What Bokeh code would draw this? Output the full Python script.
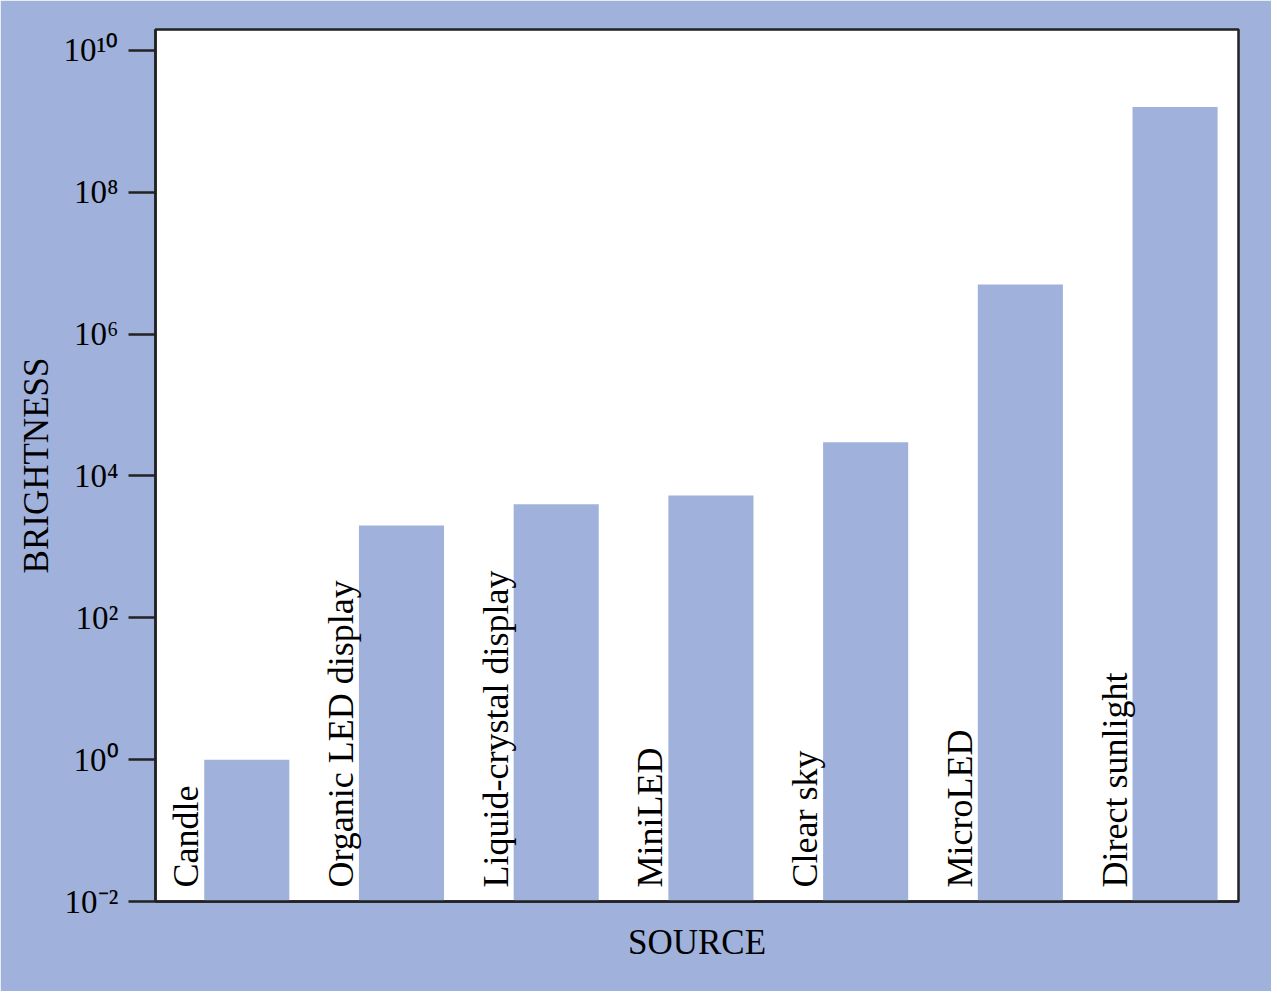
from bokeh.plotting import figure
from bokeh.models import Range1d, FixedTicker, ColumnDataSource
from bokeh.embed import file_html
from bokeh.resources import INLINE
from bokeh.core.properties import value

# ---- data ----
categories = ["Candle", "Organic LED display", "Liquid-crystal display", "MiniLED",
              "Clear sky", "MicroLED", "Direct sunlight"]
brightness = [1, 2000, 4000, 5300, 30000, 5e6, 1.6e9]
tick_values = [1e-2, 1e0, 1e2, 1e4, 1e6, 1e8, 1e10]
tick_labels = ["10⁻²", "10⁰", "10²", "10⁴", "10⁶", "10⁸", "10¹⁰"]

BG = "#a0b2dc"
FONT = "Liberation Serif"
FS = "35px"
LFS = "36px"
TFS = "33px"

bar_offset = 0.59
bar_width = 0.55
idx = list(range(len(categories)))
xc = [i + bar_offset for i in idx]
xl = [i + bar_offset - bar_width / 2 for i in idx]

src = ColumnDataSource(dict(x=xc, xl=xl, top=brightness, name=categories,
                            ybase=[1e-2] * len(idx)))

p = figure(width=1271, height=991, y_axis_type="log",
           x_range=Range1d(0, len(categories)),
           y_range=Range1d(1e-2, 10 ** 10.296),
           output_backend="svg", toolbar_location=None,
           min_border_left=155, min_border_right=33,
           min_border_top=29, min_border_bottom=90)

p.background_fill_color = "white"
p.border_fill_color = BG
p.outline_line_color = "#222222"
p.outline_line_width = 2.5
p.xgrid.visible = False
p.ygrid.visible = False

p.vbar(x="x", width=bar_width, bottom="ybase", top="top", source=src,
       fill_color=BG, line_color=None)

p.text(x="xl", y="ybase", text="name", source=src, angle=1.5708,
       x_offset=-18, y_offset=-14, text_align="left", text_baseline="alphabetic",
       text_font=value(FONT), text_font_size=LFS, text_color="black")

# y axis
ya = p.yaxis[0]
ya.ticker = FixedTicker(ticks=tick_values, minor_ticks=[])
ya.major_label_overrides = {v: l for v, l in zip(tick_values, tick_labels)}
ya.major_tick_out = 27
ya.major_tick_in = 0
ya.minor_tick_line_color = None
ya.major_tick_line_width = 2.5
ya.major_tick_line_color = "#222222"
ya.axis_line_color = "#222222"
ya.axis_line_width = 2.5
ya.major_label_standoff = 10
ya.major_label_text_font = FONT
ya.major_label_text_font_size = TFS
ya.major_label_text_color = "black"
ya.axis_label = "BRIGHTNESS"
ya.axis_label_text_font = FONT
ya.axis_label_text_font_size = FS
ya.axis_label_text_font_style = "normal"
ya.axis_label_text_color = "black"
ya.axis_label_standoff = 5

# x axis
xa = p.xaxis[0]
xa.ticker = FixedTicker(ticks=[])
xa.major_tick_line_color = None
xa.minor_tick_line_color = None
xa.axis_line_color = "#222222"
xa.axis_line_width = 2.5
xa.axis_label = "SOURCE"
xa.axis_label_text_font = FONT
xa.axis_label_text_font_size = FS
xa.axis_label_text_font_style = "normal"
xa.axis_label_text_color = "black"
xa.axis_label_standoff = 21

open("out.html", "w").write(file_html(p, INLINE))
